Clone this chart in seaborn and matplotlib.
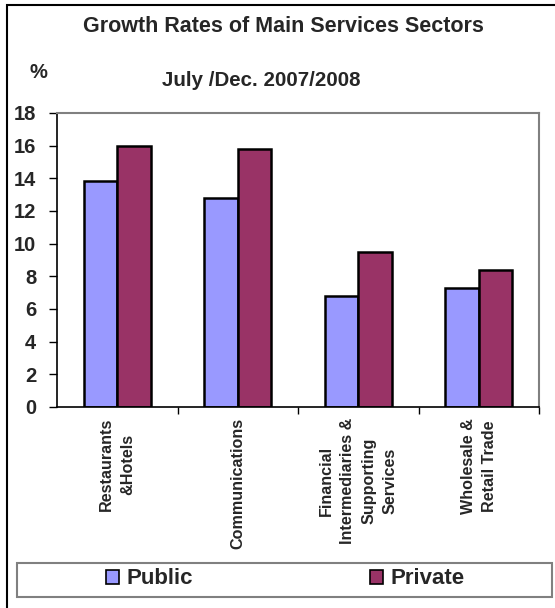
import matplotlib
matplotlib.use("Agg")
import matplotlib.pyplot as plt
from matplotlib.patches import Rectangle, Patch
import seaborn as sns
import pandas as pd

sectors = ["Restaurants\n&Hotels", "Communications",
           "Financial\nIntermediaries &\nSupporting\nServices",
           "Wholesale &\nRetail Trade"]
public = [13.85, 12.8, 6.8, 7.3]
private = [16.0, 15.8, 9.5, 8.4]
series = ["Public", "Private"]
colors = ["#9999FF", "#993366"]
yticks = [0, 2, 4, 6, 8, 10, 12, 14, 16, 18]

df = pd.DataFrame({
    "sector": sectors * 2,
    "value": public + private,
    "type": ["Public"] * len(sectors) + ["Private"] * len(sectors),
})

sns.set_style("white")
plt.rcParams["font.family"] = ["Liberation Sans", "DejaVu Sans"]
plt.rcParams["font.weight"] = "bold"

fig = plt.figure(figsize=(5.55, 6.08), dpi=100)
ax = fig.add_axes([57 / 555, 1 - 407 / 608, (539 - 57) / 555, (407 - 113) / 608])

sns.barplot(data=df, x="sector", y="value", hue="type", hue_order=series,
            palette=colors, edgecolor="black", linewidth=1.8, width=0.56,
            gap=0, ax=ax, saturation=1)
ax.get_legend().remove()

ax.set_xlim(-0.5, 3.5)
ax.set_ylim(0, 18)
ax.set_yticks(yticks)
ax.set_yticklabels([str(v) for v in yticks], fontsize=14.5, fontweight="bold")
ax.set_xlabel("")
ax.set_ylabel("")

ax.set_xticks(range(len(sectors)))
ax.set_xticklabels(sectors, rotation=90, fontsize=11.6, fontweight="bold",
                   linespacing=1.5)
ax.tick_params(axis="x", which="major", length=0, pad=8)
ax.set_xticks([0.5, 1.5, 2.5, 3.5], minor=True)
ax.tick_params(axis="x", which="minor", length=5, width=1, color="black", direction="out", bottom=True)
ax.tick_params(axis="y", length=6, width=1, color="black", direction="out", left=True, pad=9)

for s in ["left", "bottom"]:
    ax.spines[s].set_color("black")
    ax.spines[s].set_linewidth(1.2)
for s in ["top", "right"]:
    ax.spines[s].set_color("#808080")
    ax.spines[s].set_linewidth(1.5)
    ax.spines[s].set_visible(True)

fig.text(283 / 555, 1 - 26 / 608, "Growth Rates of Main Services Sectors",
         ha="center", va="center", fontsize=15.5, fontweight="bold")
fig.text(261 / 555, 1 - 80 / 608, "July /Dec. 2007/2008",
         ha="center", va="center", fontsize=14.8, fontweight="bold")
fig.text(38 / 555, 1 - 72 / 608, "%", ha="center", va="center",
         fontsize=14.5, fontweight="bold")

# outer frame
fig.patches.append(Rectangle((7 / 555, -0.1), 1.2, 1 - 5 / 608 + 0.1,
                             transform=fig.transFigure, fill=False,
                             edgecolor="black", linewidth=1.5))
# legend frame
fig.patches.append(Rectangle((17 / 555, 1 - 597 / 608), 535 / 555, 34 / 608,
                             transform=fig.transFigure, fill=False,
                             edgecolor="#808080", linewidth=1.5))

handles = [Patch(facecolor=c, edgecolor="black", linewidth=1.2) for c in colors]
fig.legend(handles, series, loc="center left",
           bbox_to_anchor=(106 / 555, 1 - 579 / 608), ncol=2, frameon=False,
           prop={"size": 16, "weight": "bold"}, handlelength=0.58,
           handleheight=0.58, handletextpad=0.35, columnspacing=7.95,
           borderaxespad=0, borderpad=0)

fig.savefig("out.png", dpi=100)
